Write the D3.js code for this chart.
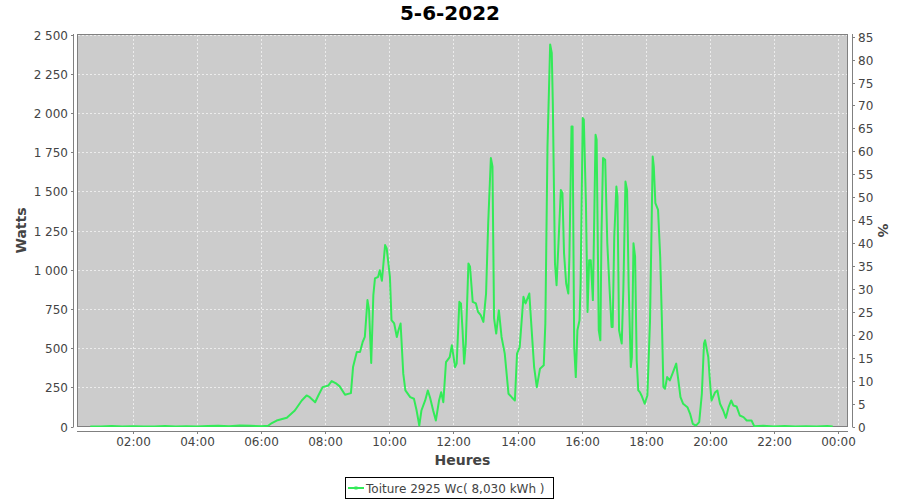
<!DOCTYPE html>
<html><head><meta charset="utf-8">
<script src="https://cdn.jsdelivr.net/npm/d3@7"></script>
<style>body{margin:0;background:#fff;} svg{display:block;font-family:"DejaVu Sans",sans-serif;}</style>
</head><body><svg id="c" width="900" height="500"></svg>
<script>
const chartTitle = "5-6-2022";
const seriesName = "Toiture 2925 Wc( 8,030 kWh )";
const peakPower = 2925;
const yAxisLabel = "Watts";
const y2AxisLabel = "%";
const xAxisLabel = "Heures";

const times = [
"00:40","01:00","01:20","01:40","02:00","02:20","02:40","03:00","03:20","03:40","04:00","04:20","04:40","05:00","05:20","05:40",
"06:00","06:13","06:20","06:29","06:48","07:03","07:16","07:25","07:31","07:41","07:47","07:55","08:06","08:12","08:21","08:27",
"08:37","08:48","08:52","08:59","09:05","09:10","09:14","09:19","09:22","09:26","09:30","09:33","09:39","09:42","09:46","09:52",
"09:55","10:01","10:04","10:09","10:14","10:17","10:21","10:26","10:30","10:39","10:46","10:51","10:56","11:00","11:07","11:12",
"11:16","11:22","11:27","11:33","11:37","11:41","11:46","11:53","11:57","12:03","12:06","12:11","12:14","12:17","12:20","12:23",
"12:28","12:31","12:36","12:42","12:46","12:51","12:56","13:01","13:05","13:10","13:13","13:16","13:20","13:25","13:30","13:36",
"13:43","13:49","13:55","13:59","14:04","14:11","14:15","14:22","14:26","14:31","14:36","14:42","14:49","14:52","14:56","15:01",
"15:04","15:06","15:10","15:13","15:16","15:21","15:24","15:27","15:31","15:35","15:37","15:41","15:43","15:46","15:49","15:52",
"15:56","15:58","16:02","16:04","16:08","16:11","16:14","16:17","16:21","16:23","16:26","16:28","16:32","16:35","16:37","16:40",
"16:44","16:48","16:52","16:56","16:58","17:01","17:05","17:07","17:10","17:15","17:18","17:22","17:25","17:28","17:32","17:34",
"17:37","17:40","17:43","17:46","17:49","17:52","17:58","18:03","18:08","18:13","18:15","18:18","18:23","18:27","18:30","18:33",
"18:36","18:40","18:45","18:50","18:57","19:01","19:05","19:10","19:18","19:23","19:28","19:34","19:40","19:45","19:49","19:51",
"19:57","20:00","20:03","20:10","20:14","20:19","20:25","20:30","20:35","20:40","20:44","20:50","20:56","21:03","21:09","21:18",
"21:23","21:40","22:00","22:20","22:40","23:00","23:20","23:40","23:50"
];
const watts = [
0,0,3,0,2,0,0,3,0,2,0,3,5,2,6,4,
2,5,22,38,56,102,166,198,187,155,198,251,262,290,273,256,
203,213,379,475,475,539,571,806,742,405,838,944,955,997,929,1157,
1136,955,678,657,571,614,657,337,230,187,177,102,6,102,166,230,
187,102,38,166,219,155,411,443,518,379,401,795,785,614,401,529,
1040,1019,795,785,731,710,667,848,1296,1712,1658,689,593,742,571,465,
209,187,166,465,507,827,785,848,635,379,251,369,390,657,1786,2436,
2383,2063,1040,901,1125,1509,1488,1104,912,848,1083,1914,1914,507,315,614,
678,912,1967,1957,1424,731,1061,1061,806,1210,1861,1829,614,550,1210,1712,
1701,1168,891,635,635,1210,1530,1466,614,529,870,1562,1509,891,379,443,
1168,1083,422,230,219,198,145,198,678,1722,1658,1424,1381,1083,699,251,
241,315,294,337,401,294,187,145,123,81,17,6,28,209,529,550,
443,294,166,219,230,145,102,55,123,166,134,128,70,60,38,38,
2,5,0,3,0,2,0,3,0
];
const yTicks = [0,250,500,750,1000,1250,1500,1750,2000,2250,2500];
const pctTicks = [0,5,10,15,20,25,30,35,40,45,50,55,60,65,70,75,80,85];

const svg = d3.select("#c");
const L = 77, R = 848, T = 34, B = 427;
const parse = d3.timeParse("%H:%M");
const data = times.map((t,i)=>({t: parse(t), w: watts[i]}));
const x0 = new Date(1900,0,1,0,15,12), x1 = new Date(1900,0,2,0,18,36);
const x = d3.scaleTime().domain([x0,x1]).range([L, R]);
const y = d3.scaleLinear().domain([0,2500]).range([B-0.5, T+0.5]);
const y2 = d3.scaleLinear().domain([0, 2500/peakPower*100]).range([B-0.5, T+0.5]);
const loc = d3.formatLocale({decimal:",", thousands:" ", grouping:[3], currency:["","€"]});
const fmt = loc.format(",d");

// title
svg.append("text").attr("x",450).attr("y",20).attr("text-anchor","middle")
  .attr("font-size",20).attr("font-weight","bold").attr("fill","#000").text(chartTitle);

// plot background
svg.append("rect").attr("x",L+0.5).attr("y",T+0.5).attr("width",R-L-1).attr("height",B-T-1)
  .attr("fill","#cccccc").attr("stroke","#808080").attr("stroke-width",1);

const grid = svg.append("g");
const xt = x.ticks(d3.timeHour.every(2));
xt.forEach(t=>{
  const px = Math.round(x(t))+0.5;
  grid.append("line").attr("x1",px).attr("x2",px).attr("y1",T+1).attr("y2",B-1)
    .attr("stroke","#f4f4f4").attr("stroke-width",0.8).attr("stroke-dasharray","2,2");
});
yTicks.forEach(v=>{
  const py = Math.round(y(v))+0.5;
  if (v===0) return;
  grid.append("line").attr("x1",L+1).attr("x2",R-1).attr("y1",py).attr("y2",py)
    .attr("stroke","#f4f4f4").attr("stroke-width",0.8).attr("stroke-dasharray","2,2");
});

// clip + line
svg.append("clipPath").attr("id","clip").append("rect").attr("x",L+1).attr("y",T+1).attr("width",R-L-2).attr("height",B-T-1);
const line = d3.line().x(d=>x(d.t)).y(d=>y(d.w)).curve(d3.curveLinear);
svg.append("path").datum(data).attr("d",line).attr("fill","none").attr("stroke","#33ea58")
  .attr("stroke-width",2).attr("stroke-linejoin","round").attr("clip-path","url(#clip)");

// left axis
const la = svg.append("g").attr("font-size",12).attr("fill","#444");
la.append("line").attr("x1",73.5).attr("x2",73.5).attr("y1",T).attr("y2",B).attr("stroke","#808080");
yTicks.forEach(v=>{
  const py = Math.round(y(v))+0.5;
  la.append("line").attr("x1",71).attr("x2",73.5).attr("y1",py).attr("y2",py).attr("stroke","#808080");
  la.append("text").attr("x",68).attr("y",py+4.3).attr("text-anchor","end").text(fmt(v));
});
// right axis
const ra = svg.append("g").attr("font-size",12).attr("fill","#444");
ra.append("line").attr("x1",852.5).attr("x2",852.5).attr("y1",T).attr("y2",B).attr("stroke","#808080");
pctTicks.forEach(v=>{
  const py = Math.round(y2(v))+0.5;
  ra.append("line").attr("x1",852.5).attr("x2",855).attr("y1",py).attr("y2",py).attr("stroke","#808080");
  ra.append("text").attr("x",858).attr("y",py+4.3).attr("text-anchor","start").text(v);
});
// bottom axis
const ba = svg.append("g").attr("font-size",12).attr("fill","#444");
ba.append("line").attr("x1",L).attr("x2",R).attr("y1",431.5).attr("y2",431.5).attr("stroke","#808080");
const tf = d3.timeFormat("%H:%M");
xt.forEach(t=>{
  const px = Math.round(x(t))+0.5;
  ba.append("line").attr("x1",px).attr("x2",px).attr("y1",431.5).attr("y2",434).attr("stroke","#808080");
  ba.append("text").attr("x",px).attr("y",446).attr("text-anchor","middle").text(tf(t));
});

// axis labels
svg.append("text").attr("x",(L+R)/2).attr("y",465).attr("text-anchor","middle")
  .attr("font-size",14).attr("font-weight","bold").attr("fill","#444").text(xAxisLabel);
svg.append("text").attr("transform",`translate(26,${(T+B)/2}) rotate(-90)`).attr("text-anchor","middle")
  .attr("font-size",14).attr("font-weight","bold").attr("fill","#444").text(yAxisLabel);
svg.append("text").attr("transform",`translate(878,${(T+B)/2}) rotate(90)`).attr("text-anchor","middle")
  .attr("font-size",14).attr("font-weight","bold").attr("fill","#444").text(y2AxisLabel);

// legend
const lg = svg.append("g");
lg.append("rect").attr("x",345.5).attr("y",477.5).attr("width",208).attr("height",21)
  .attr("fill","#fff").attr("stroke","#000");
lg.append("line").attr("x1",348).attr("x2",364).attr("y1",488).attr("y2",488).attr("stroke","#33ea58").attr("stroke-width",2);
lg.append("rect").attr("x",354.5).attr("y",486.5).attr("width",3).attr("height",3).attr("fill","#33ea58");
lg.append("text").attr("x",366).attr("y",492.5).attr("font-size",12).attr("fill","#444").text(seriesName);
</script></body></html>
